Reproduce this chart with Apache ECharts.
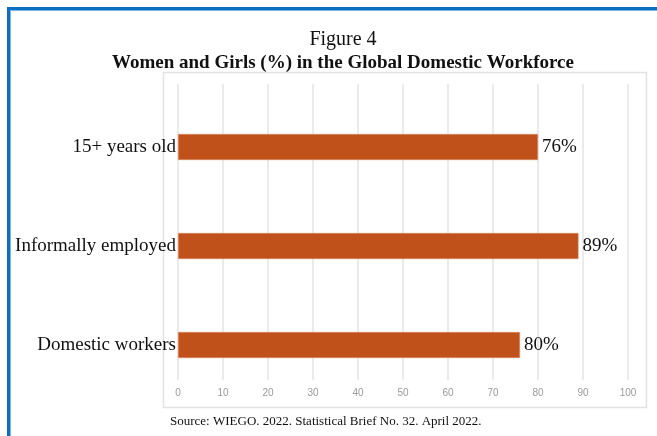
<!DOCTYPE html>
<html>
<head>
<meta charset="utf-8">
<script src="https://cdn.jsdelivr.net/npm/echarts@6/dist/echarts.min.js"></script>
<style>html,body{margin:0;padding:0;background:#fff;}#c{width:657px;height:436px;}</style>
</head>
<body>
<div id="c"></div>
<script>
const categories = ["15+ years old", "Informally employed", "Domestic workers"];
const values = [80, 89, 76];
const valueLabels = ["76%", "89%", "80%"];
const tickMin = 0, tickMax = 100, tickStep = 10;

const serif = "'Liberation Serif', 'Times New Roman', serif";
const chart = echarts.init(document.getElementById('c'), null, {renderer: 'canvas'});
chart.setOption({
  animation: false,
  backgroundColor: '#fff',
  title: [
    {text: 'Figure 4', left: 338, top: 25, textAlign: 'center',
     textStyle: {fontFamily: serif, fontWeight: 'normal', fontSize: 20, color: '#111'}},
    {text: 'Women and Girls (%) in the Global Domestic Workforce', left: 338, top: 49, textAlign: 'center',
     textStyle: {fontFamily: serif, fontWeight: 'bold', fontSize: 19, color: '#111'}},
    {text: 'Source: WIEGO. 2022. Statistical Brief No. 32. April 2022.', left: 165, top: 415, padding: [0, 0, 0, 5],
     textStyle: {fontFamily: serif, fontWeight: 'normal', fontSize: 13, color: '#111'}}
  ],
  graphic: [
    {type: 'rect', shape: {x: 7, y: 7, width: 660, height: 3}, style: {fill: '#0b6fc1'}},
    {type: 'rect', shape: {x: 10, y: 10, width: 660, height: 1}, style: {fill: '#7fb3e0'}},
    {type: 'rect', shape: {x: 7, y: 7, width: 3, height: 440}, style: {fill: '#0b6fc1'}},
    {type: 'rect', shape: {x: 10, y: 10, width: 1, height: 440}, style: {fill: '#7fb3e0'}},
    {type: 'rect', shape: {x: 163.5, y: 72.5, width: 483, height: 335}, style: {fill: 'none', stroke: '#e2e2e2', lineWidth: 1.5}}
  ],
  grid: [
    {left: 178, right: 29, top: 97.5, bottom: 41.5},
    {left: 178, right: 29, top: 84, bottom: 56}
  ],
  xAxis: [
    {gridIndex: 0, type: 'value', min: tickMin, max: tickMax, interval: tickStep, show: false},
    {gridIndex: 1, type: 'value', min: tickMin, max: tickMax, interval: tickStep,
     axisLine: {show: false}, axisTick: {show: false},
     splitLine: {show: true, lineStyle: {color: '#e4e4e4', width: 1.5}},
     axisLabel: {color: '#9a9a9a', fontSize: 10, margin: 8, fontFamily: "'Liberation Sans', Arial, sans-serif"}}
  ],
  yAxis: [
    {gridIndex: 0, type: 'category', data: categories, inverse: true,
     axisLine: {show: false}, axisTick: {show: false}, splitLine: {show: false},
     axisLabel: {color: '#111', fontSize: 19, fontFamily: serif, margin: 2}},
    {gridIndex: 1, type: 'value', min: 0, max: 1, show: false}
  ],
  series: [
    {type: 'bar', xAxisIndex: 0, yAxisIndex: 0, data: values, barWidth: 26,
     itemStyle: {color: '#c1511a', borderColor: '#d98a63', borderWidth: 0.6},
     label: {show: true, position: 'right', distance: 4, color: '#111', fontSize: 19, fontFamily: serif,
       formatter: p => valueLabels[p.dataIndex]}}
  ]
});
</script>
</body>
</html>
